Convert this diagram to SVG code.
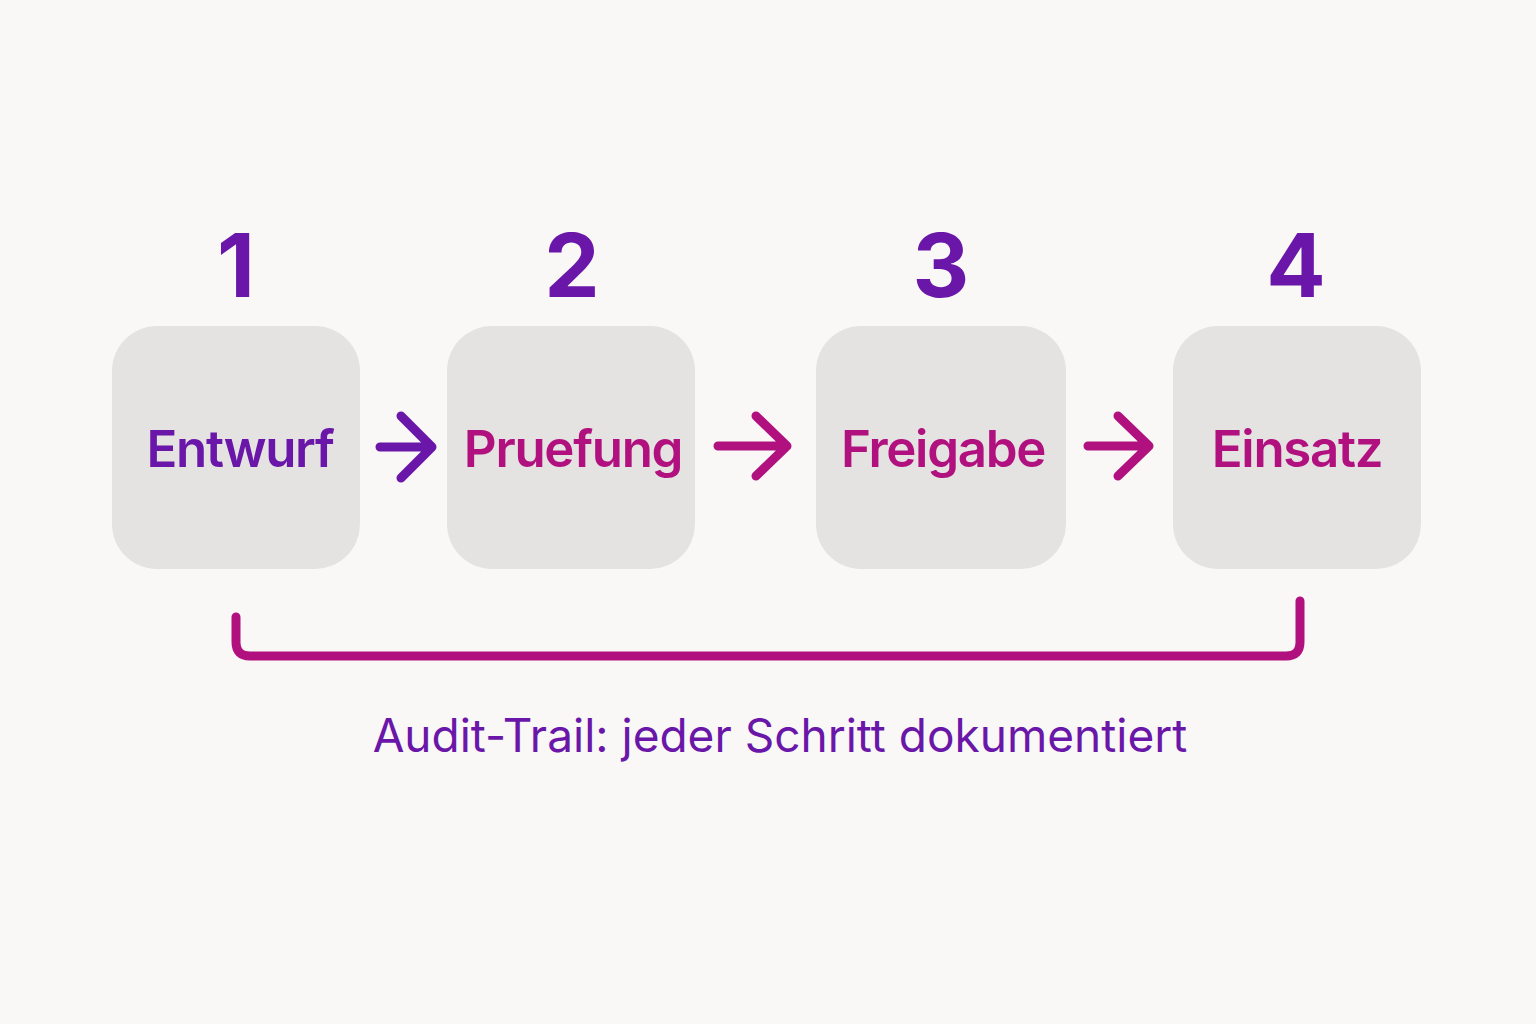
<svg xmlns="http://www.w3.org/2000/svg" width="1536" height="1024" viewBox="0 0 1536 1024">
<style>
.box{fill:#e4e3e1}
.num{font-family:Inter,"Noto Sans",sans-serif;font-weight:700;font-size:88px;fill:#6a17a9;text-anchor:middle}
.lbl{font-family:Inter,"Noto Sans",sans-serif;font-weight:600;font-size:51px;letter-spacing:-1.3px;text-anchor:middle}
.p{fill:#6a17a9}
.m{fill:#b1107f}
.arr{fill:none;stroke-width:9;stroke-linecap:round;stroke-linejoin:round}
.cap{font-family:Inter,"Noto Sans",sans-serif;font-weight:400;font-size:46px;fill:#6a17a9;text-anchor:middle}
</style>
<rect width="1536" height="1024" fill="#f9f8f6"/>
<g id="node1">
<text class="num" x="236" y="297">1</text>
<rect class="box" x="112" y="326" width="248" height="243" rx="45"/>
<text class="lbl p" x="240" y="467">Entwurf</text>
</g>
<g id="node2">
<text class="num" x="572" y="297">2</text>
<rect class="box" x="447" y="326" width="248" height="243" rx="45"/>
<text class="lbl m" x="573" y="467">Pruefung</text>
</g>
<g id="node3">
<text class="num" x="941" y="297">3</text>
<rect class="box" x="816" y="326" width="250" height="243" rx="45"/>
<text class="lbl m" x="943" y="467">Freigabe</text>
</g>
<g id="node4">
<text class="num" x="1296" y="297">4</text>
<rect class="box" x="1173" y="326" width="248" height="243" rx="45"/>
<text class="lbl m" x="1297" y="467">Einsatz</text>
</g>
<g id="connectors">
<path class="arr" d="M380 447 H431 M401 416 L432 447 L401 478" stroke="#6a17a9"/>
<path class="arr" d="M718 446 H786 M756 416 L787 446 L756 476" stroke="#b1107f"/>
<path class="arr" d="M1088 446 H1149 M1118 416 L1149 446 L1118 476" stroke="#b1107f"/>
<path class="arr" d="M236 617 V642 Q236 656 250 656 H1286 Q1300 656 1300 642 V601" stroke="#b1107f"/>
</g>
<text class="cap" x="780" y="752">Audit-Trail: jeder Schritt dokumentiert</text>
</svg>
